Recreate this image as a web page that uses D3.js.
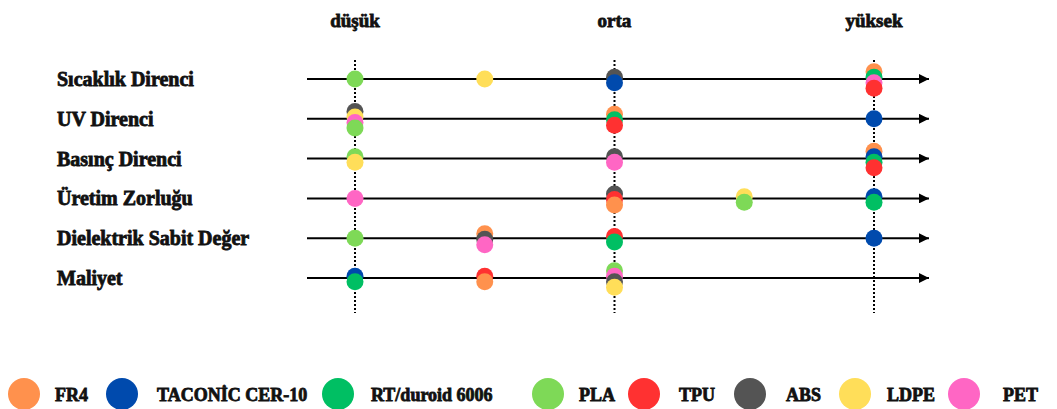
<!DOCTYPE html>
<html><head><meta charset="utf-8">
<script src="https://cdn.jsdelivr.net/npm/d3@7/dist/d3.min.js"></script>
<style>
html,body{margin:0;padding:0;background:#fff;}
text{font-family:"Liberation Serif","DejaVu Serif",serif;font-weight:700;fill:#111;stroke:#111;stroke-width:0.8px;}
</style></head>
<body><svg id="c" width="1057" height="409"></svg>
<script>
// ---- data ----
const categories = ["Sıcaklık Direnci","UV Direnci","Basınç Direnci","Üretim Zorluğu","Dielektrik Sabit Değer","Maliyet"];
const levelLabels = ["düşük","orta","yüksek"];   // 0, 1, 2
const seriesNames = ["FR4","TACONİC CER-10","RT/duroid 6006","PLA","TPU","ABS","LDPE","PET"];
const seriesColors = ["#FF914D","#004AAD","#00BF63","#7ED957","#FF3131","#545454","#FFDE59","#FF66C4"];
// level per category (0 = düşük, 1 = orta, 2 = yüksek), null = not shown
const FR4     = [2, 1, 2, 1, 0.5, 0.5];
const TACONIC = [1, 2, 2, 2, 2, 0];
const RT      = [2, 1, 2, 2, 1, 0];
const PLA     = [0, 0, 0, 1.5, 0, 1];
const TPU     = [2, 1, 2, 1, 1, 0.5];
const ABS     = [1, 0, 1, 1, 0.5, 1];
const LDPE    = [0.5, 0, 0, 1.5, null, 1];
const PET     = [2, 0, 1, 0, 0.5, 1];
// stacking rank within a shared position (0 = top)
const FR4_rank     = [0, 0, 0, 2, 0, 1];
const TACONIC_rank = [1, 0, 1, 0, 0, 0];
const RT_rank      = [1, 1, 2, 1, 1, 1];
const PLA_rank     = [0, 3, 0, 1, 0, 0];
const TPU_rank     = [3, 2, 3, 1, 0, 0];
const ABS_rank     = [0, 0, 0, 0, 1, 2];
const LDPE_rank    = [0, 1, 1, 0, 0, 3];
const PET_rank     = [2, 2, 1, 0, 2, 1];

const seriesValues = [FR4,TACONIC,RT,PLA,TPU,ABS,LDPE,PET];
const seriesRanks = [FR4_rank,TACONIC_rank,RT_rank,PLA_rank,TPU_rank,ABS_rank,LDPE_rank,PET_rank];

// ---- layout ----
const svg = d3.select("#c");
const x = d3.scaleLinear().domain([0,2]).range([355,874]);
const y = d3.scalePoint().domain(categories).range([79,278]);
const lineX0 = 307, lineX1 = 931;

const defs = svg.append("defs");
defs.append("marker").attr("id","arr").attr("viewBox","0 0 10 10").attr("refX",10).attr("refY",5)
  .attr("markerWidth",5).attr("markerHeight",5).attr("markerUnits","strokeWidth").attr("orient","auto")
  .append("path").attr("d","M0,0L10,5L0,10Z").attr("fill","#000");

// dotted verticals
svg.append("g").selectAll("line").data([0,1,2]).join("line")
  .attr("x1",d=>x(d)).attr("x2",d=>x(d)).attr("y1",60).attr("y2",313)
  .attr("stroke","#000").attr("stroke-width",2).attr("stroke-dasharray","2,2");

// horizontal lines
svg.append("g").selectAll("line").data(categories).join("line")
  .attr("x1",lineX0).attr("x2",lineX1-2).attr("y1",d=>y(d)).attr("y2",d=>y(d))
  .attr("stroke","#000").attr("stroke-width",2).attr("marker-end","url(#arr)");

// level labels
svg.append("g").selectAll("text").data(levelLabels).join("text")
  .attr("x",(d,i)=>x(i)).attr("y",27).attr("text-anchor","middle")
  .style("font-size","19px").text(d=>d);

// row labels
svg.append("g").selectAll("text").data(categories).join("text")
  .attr("x",57).attr("y",d=>y(d)).attr("dy","0.35em")
  .style("font-size","20px").text(d=>d);

// points
const pts = [];
categories.forEach((c,ci)=>{
  seriesValues.forEach((vals,si)=>{
    const v = vals[ci];
    if (v===null||v===undefined) return;
    const n = seriesValues.filter(vv=>vv[ci]===v).length;
    pts.push({c, v, si, rank: seriesRanks[si][ci], n});
  });
});
const step = 5.5;
pts.forEach(p=>{ p.off = (p.rank-(p.n-1)/2)*step + (p.n>1?1:0); });
pts.sort((a,b)=>a.off-b.off);
svg.append("g").selectAll("circle").data(pts).join("circle")
  .attr("cx",d=>x(d.v)).attr("cy",d=>y(d.c)+d.off).attr("r",8.5)
  .attr("fill",d=>seriesColors[d.si]);

// legend
const legX = [24,122,338,548,644,750,855,964];
const legT = [55,157,371,579,679,786,887,1003];
const lg = svg.append("g");
seriesNames.forEach((s,i)=>{
  lg.append("circle").attr("cx",legX[i]).attr("cy",394).attr("r",16).attr("fill",seriesColors[i]);
  lg.append("text").attr("x",legT[i]).attr("y",401).style("font-size","18px").text(s);
});
</script></body></html>
